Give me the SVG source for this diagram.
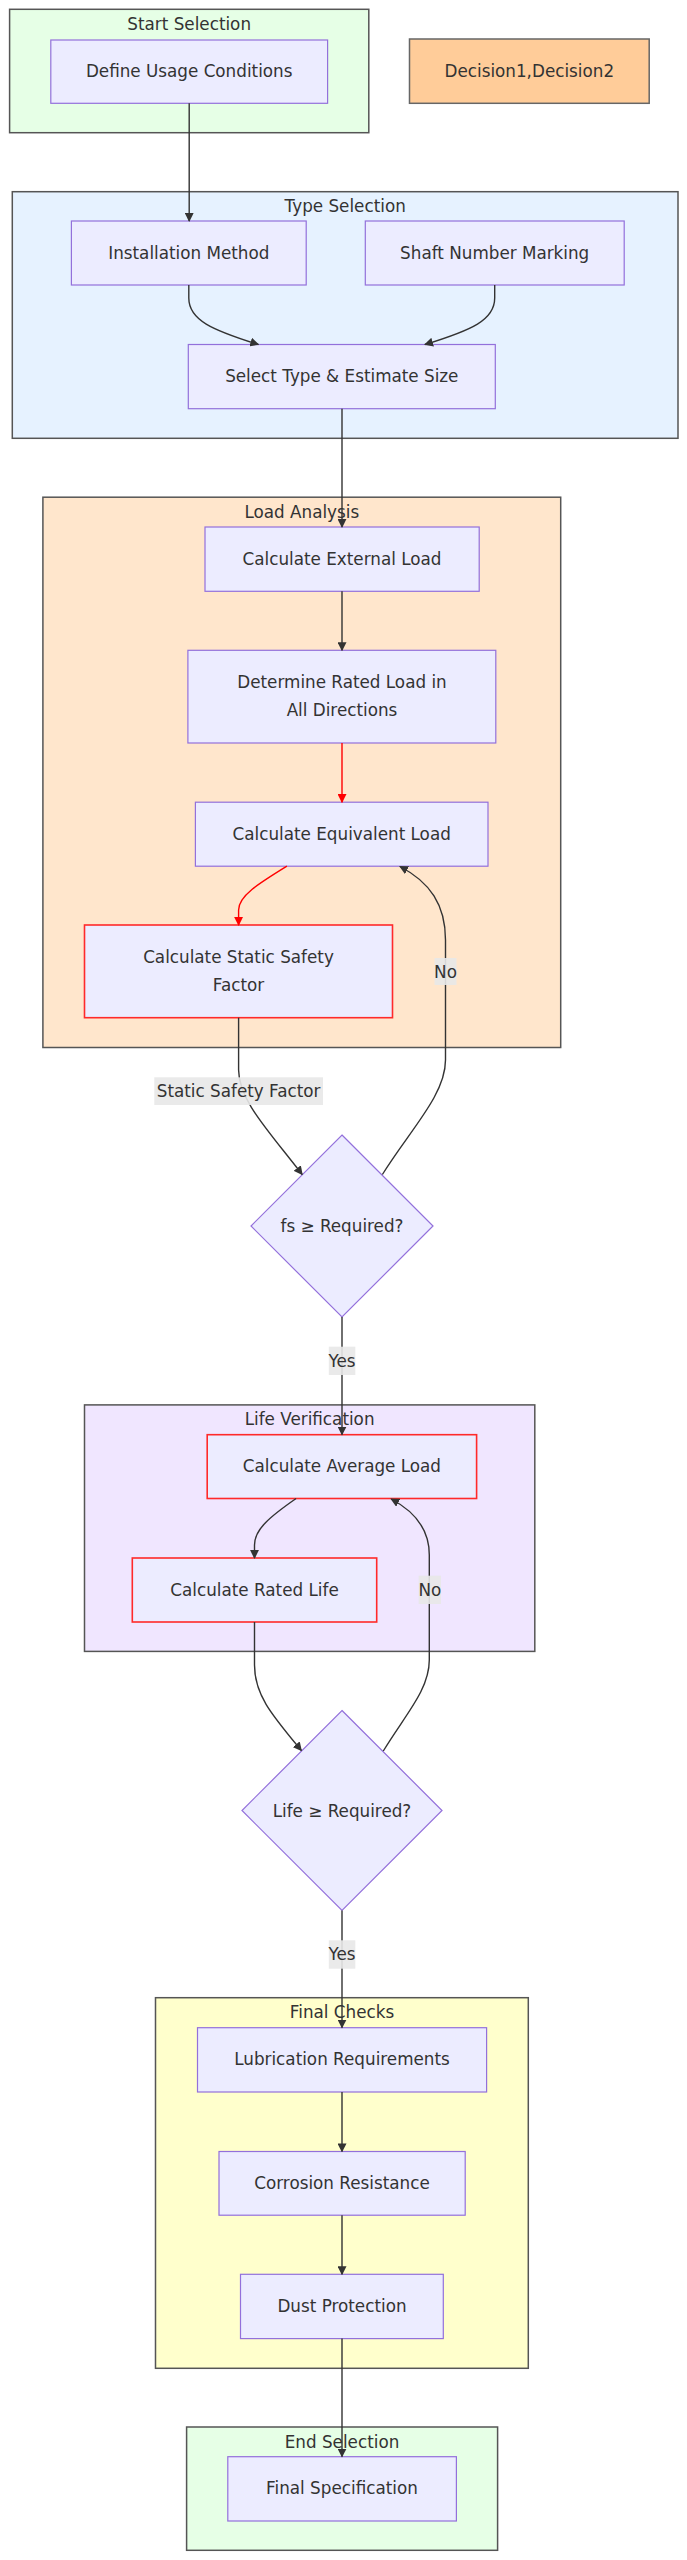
<svg xmlns="http://www.w3.org/2000/svg" width="687" height="2560" viewBox="0 0 687 2560">
<defs>
<marker id="arr" viewBox="0 0 10 10" refX="9" refY="5" markerWidth="9" markerHeight="9" markerUnits="userSpaceOnUse" orient="auto"><path d="M0,0 L10,5 L0,10 z" fill="#333"/></marker>
<marker id="arrRed" viewBox="0 0 10 10" refX="9" refY="5" markerWidth="9" markerHeight="9" markerUnits="userSpaceOnUse" orient="auto"><path d="M0,0 L10,5 L0,10 z" fill="#ff0000"/></marker>
<style>
text{font-family:"DejaVu Sans","Liberation Sans",sans-serif;font-size:16.8px;fill:#333;text-anchor:middle}
.cl{stroke:#555;stroke-width:1.5}
.nd{fill:#ececff;stroke:#9370db;stroke-width:1.2}
.rd{fill:#ececff;stroke:#ff2a2a;stroke-width:1.6}
.e{fill:none;stroke:#333;stroke-width:1.4;marker-end:url(#arr)}
.er{fill:none;stroke:#ff0000;stroke-width:1.4;marker-end:url(#arrRed)}
.lb{fill:#e8e8e8;opacity:0.9}
</style>
</defs>
<rect width="687" height="2560" fill="#ffffff"/>

<g id="cluster-start">
<rect class="cl" x="9.6" y="9.3" width="359.2" height="123.4" fill="#e6ffe6"/>
<text x="189.2" y="29.8">Start Selection</text>
</g>
<g id="cluster-type">
<rect class="cl" x="12.3" y="191.7" width="665.7" height="246.6" fill="#e6f2ff"/>
<text x="345.2" y="212.2">Type Selection</text>
</g>
<g id="cluster-load">
<rect class="cl" x="42.9" y="497.2" width="517.8" height="550.3" fill="#ffe6cc"/>
<text x="301.8" y="517.7">Load Analysis</text>
</g>
<g id="cluster-life">
<rect class="cl" x="84.5" y="1404.9" width="450.3" height="246.5" fill="#f0e6ff"/>
<text x="309.6" y="1425.4">Life Verification</text>
</g>
<g id="cluster-final">
<rect class="cl" x="155.5" y="1997.7" width="372.8" height="370.6" fill="#ffffcc"/>
<text x="342" y="2018.2">Final Checks</text>
</g>
<g id="cluster-end">
<rect class="cl" x="186.6" y="2427" width="311" height="123.3" fill="#e6ffe6"/>
<text x="342" y="2447.5">End Selection</text>
</g>

<g id="node-define">
<rect class="nd" x="50.8" y="40" width="276.8" height="63.3"/>
<text x="189.2" y="77.2">Define Usage Conditions</text>
</g>
<g id="node-decision">
<rect x="409.5" y="39" width="239.7" height="64.3" fill="#ffcc99" stroke="#666" stroke-width="1.5"/>
<text x="529.3" y="76.7">Decision1,Decision2</text>
</g>
<g id="node-install">
<rect class="nd" x="71.4" y="221" width="234.8" height="64"/>
<text x="188.8" y="258.5">Installation Method</text>
</g>
<g id="node-shaft">
<rect class="nd" x="365.3" y="221" width="258.9" height="64"/>
<text x="494.7" y="258.5">Shaft Number Marking</text>
</g>
<g id="node-select">
<rect class="nd" x="188.3" y="344.5" width="307" height="64.2"/>
<text x="341.8" y="382.1">Select Type &amp; Estimate Size</text>
</g>
<g id="node-external">
<rect class="nd" x="205" y="527" width="274.2" height="64.3"/>
<text x="342" y="564.7">Calculate External Load</text>
</g>
<g id="node-determine">
<rect class="nd" x="187.9" y="650.3" width="307.9" height="92.7"/>
<text x="342" y="687.6">Determine Rated Load in</text>
<text x="342" y="715.9">All Directions</text>
</g>
<g id="node-equivalent">
<rect class="nd" x="195.4" y="802.2" width="292.6" height="64"/>
<text x="341.7" y="839.7">Calculate Equivalent Load</text>
</g>
<g id="node-static">
<rect class="rd" x="84.5" y="925" width="308" height="92.7"/>
<text x="238.5" y="962.5">Calculate Static Safety</text>
<text x="238.5" y="990.5">Factor</text>
</g>
<g id="node-fs">
<polygon class="nd" points="342,1135 433,1226 342,1317 251,1226"/>
<text x="342" y="1231.7">fs ≥ Required?</text>
</g>
<g id="node-average">
<rect class="rd" x="207.2" y="1434.7" width="269.4" height="63.8"/>
<text x="341.9" y="1472.1">Calculate Average Load</text>
</g>
<g id="node-rated">
<rect class="rd" x="132.3" y="1558" width="244.4" height="64"/>
<text x="254.5" y="1595.5">Calculate Rated Life</text>
</g>
<g id="node-life">
<polygon class="nd" points="342,1710.5 442,1810.5 342,1910.5 242,1810.5"/>
<text x="342" y="1816.5">Life ≥ Required?</text>
</g>
<g id="node-lubrication">
<rect class="nd" x="197.5" y="2027.7" width="289.1" height="64.3"/>
<text x="342" y="2065.4">Lubrication Requirements</text>
</g>
<g id="node-corrosion">
<rect class="nd" x="219" y="2151.5" width="246.2" height="63.7"/>
<text x="342" y="2188.9">Corrosion Resistance</text>
</g>
<g id="node-dust">
<rect class="nd" x="240.5" y="2274.3" width="202.8" height="64.3"/>
<text x="342" y="2312">Dust Protection</text>
</g>
<g id="node-finalspec">
<rect class="nd" x="227.8" y="2456.7" width="228.6" height="64.3"/>
<text x="342" y="2494.4">Final Specification</text>
</g>

<g id="connectors">
<path class="e" d="M189.2,103.3 L189.2,221"/>
<path class="e" d="M188.8,285 L188.8,298 C188.8,320 212,330 258.4,344.5"/>
<path class="e" d="M494.7,285 L494.7,298 C494.7,320 472,330 424.9,344.5"/>
<path class="e" d="M342,408.7 L342,527"/>
<path class="e" d="M342,591.3 L342,650.3"/>
<path class="er" d="M342,743 L342,802.2"/>
<path class="er" d="M286.9,866.2 C258,884 238.6,896 238.6,910 L238.6,925"/>
<path class="e" d="M238.6,1017.7 L238.6,1070 C238.6,1100 268,1130 302.2,1174.5"/>
<path class="e" d="M382.4,1174.5 C410,1130 445.5,1095 445.5,1060 L445.5,940 C445.5,905 430,882 399.9,866.5"/>
<path class="e" d="M342,1317 L342,1434.7"/>
<path class="e" d="M296.1,1498.5 C268,1518 254.5,1530 254.5,1545 L254.5,1558"/>
<path class="e" d="M254.5,1622 L254.5,1665 C254.5,1695 272,1715 301.4,1750.5"/>
<path class="e" d="M383.3,1751 C405,1715 429.3,1690 429.3,1660 L429.3,1555 C429.3,1528 414,1511 391.1,1499"/>
<path class="e" d="M342,1910.5 L342,2027.7"/>
<path class="e" d="M342,2092 L342,2151.5"/>
<path class="e" d="M342,2215.2 L342,2274.3"/>
<path class="e" d="M342,2338.6 L342,2456.7"/>
<g id="edge-labels">
<rect class="lb" x="154.3" y="1077.3" width="168.7" height="27.7"/>
<text x="238.6" y="1096.8">Static Safety Factor</text>
<rect class="lb" x="434.5" y="958" width="22" height="27"/>
<text x="445.5" y="977.5">No</text>
<rect class="lb" x="328.8" y="1346.7" width="26.5" height="28.3"/>
<text x="342" y="1366.6">Yes</text>
<rect class="lb" x="418.7" y="1575.7" width="22.3" height="28.3"/>
<text x="429.8" y="1595.6">No</text>
<rect class="lb" x="328.8" y="1940.3" width="26.5" height="28.4"/>
<text x="342" y="1960.1">Yes</text>
</g>
</g>
</svg>
